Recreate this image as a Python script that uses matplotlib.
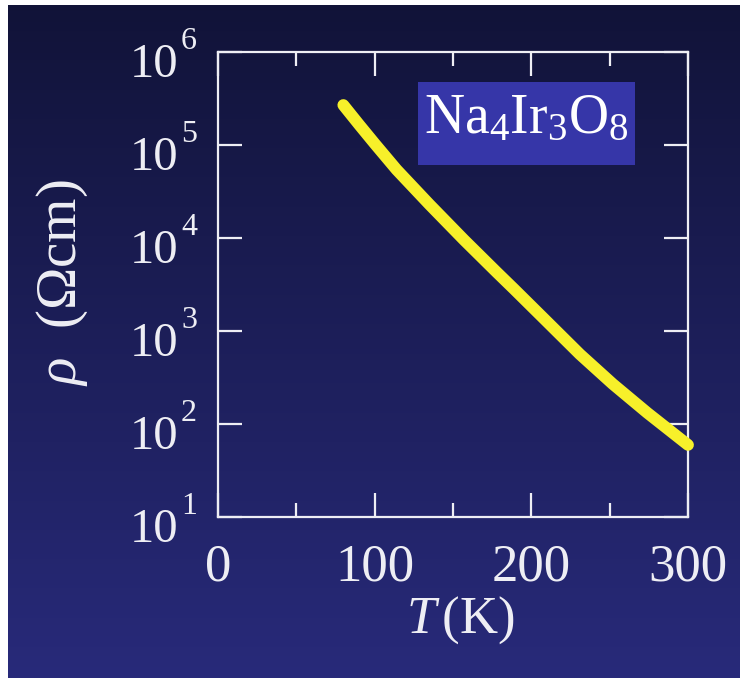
import numpy as np
import matplotlib
matplotlib.use("Agg")
import matplotlib.pyplot as plt
from matplotlib.ticker import FixedLocator, NullLocator, NullFormatter
from matplotlib.transforms import ScaledTranslation, blended_transform_factory

# Resistivity of Na4Ir3O8 versus temperature
temperature_K = [80, 90, 100, 114, 135, 157, 178, 189, 210, 231, 252, 274, 300]
resistivity_ohm_cm = [2.69e5, 1.66e5, 1.035e5, 5.43e4, 2.29e4, 9.55e3, 4.27e3,
                      2.82e3, 1.26e3, 562, 269, 132, 59.6]

x_major = [0, 100, 200, 300]
x_minor = [50, 150, 250]
y_major = [1e1, 1e2, 1e3, 1e4, 1e5, 1e6]

plt.rcParams["mathtext.fontset"] = "custom"
plt.rcParams["mathtext.rm"] = "Liberation Serif"
plt.rcParams["mathtext.it"] = "Liberation Serif:italic"
plt.rcParams["mathtext.bf"] = "Liberation Serif:bold"
plt.rcParams["font.family"] = ["Liberation Serif", "DejaVu Serif"]

W, H = 740, 678
fig = plt.figure(figsize=(W / 100, H / 100), dpi=100)

# Vertical navy gradient behind everything
bg = fig.add_axes([0, 0, 1, 1], zorder=-10)
top = np.array([17, 19, 56]) / 255
bottom = np.array([40, 42, 122]) / 255
t = np.linspace(0, 1, 256)[:, None]
grad = top[None, :] * (1 - t) + bottom[None, :] * t
grad = np.repeat(grad[:, None, :], 4, axis=1)
bg.imshow(grad, aspect="auto", extent=[0, 1, 0, 1], origin="upper")
# thin white margin on the left and top edges
bg.add_patch(plt.Rectangle((0, 0), 8 / W, 1, color="white", lw=0))
bg.add_patch(plt.Rectangle((0, 1 - 5 / H), 1, 5 / H, color="white", lw=0))
bg.set_xlim(0, 1)
bg.set_ylim(0, 1)
bg.axis("off")

ax = fig.add_axes([218 / W, 1 - 517 / H, (688 - 218) / W, (517 - 52) / H])
ax.patch.set_alpha(0)

ax.plot(temperature_K, resistivity_ohm_cm, color="#f7f02a", lw=8.5,
        solid_capstyle="round", solid_joinstyle="round", clip_on=False, zorder=3)

ax.set_yscale("log")
ax.set_xlim(0, 300)
ax.set_ylim(1e1, 1e6)

fg = "#eeeef4"
for s in ax.spines.values():
    s.set_color(fg)
    s.set_linewidth(1.6)

ax.xaxis.set_major_locator(FixedLocator(x_major))
ax.xaxis.set_minor_locator(FixedLocator(x_minor))
ax.yaxis.set_major_locator(FixedLocator(y_major))
ax.yaxis.set_minor_locator(NullLocator())
ax.yaxis.set_major_formatter(NullFormatter())

ax.tick_params(which="major", direction="in", length=17, width=1.6,
               color=fg, top=True, right=True, labelcolor=fg, labelsize=38)
ax.tick_params(which="minor", direction="in", length=10, width=1.6,
               color=fg, top=True, right=True)
ax.tick_params(axis="x", pad=19)

# decade labels: "10" with a large, high-set exponent
ylab_tr = blended_transform_factory(ax.transAxes, ax.transData)
for v in y_major:
    exp = int(round(np.log10(v)))
    ax.text(0, v, "10", ha="right", va="baseline", fontsize=35, color=fg,
            clip_on=False,
            transform=ylab_tr + ScaledTranslation(-0.40, -0.25, fig.dpi_scale_trans))
    ax.text(0, v, str(exp), ha="left", va="baseline", fontsize=23, color=fg,
            clip_on=False,
            transform=ylab_tr + ScaledTranslation(-0.37, 0.03, fig.dpi_scale_trans))

ax.set_xlabel(r"$T\,$(K)", color=fg, fontsize=38)
ax.xaxis.label.set_va("center")
ax.xaxis.set_label_coords(0.515, -0.2215)

ax.set_ylabel(r"$\rho$  ($\mathregular{\Omega}$cm)", color=fg, fontsize=41)
ax.yaxis.label.set_va("center")
ax.yaxis.set_label_coords(-0.332, 0.505)

# compound label on a blue box
ax.add_patch(plt.Rectangle((0.4255, 0.757), 0.4615, 0.1785, transform=ax.transAxes,
                           fc="#3636a8", ec="none", zorder=2))
ax.text(0.656, 0.855, r"$\mathregular{Na_4Ir_3O_8}$", transform=ax.transAxes,
        color="white", fontsize=40, ha="center", va="center", zorder=4)

fig.savefig("out.png", dpi=100)
